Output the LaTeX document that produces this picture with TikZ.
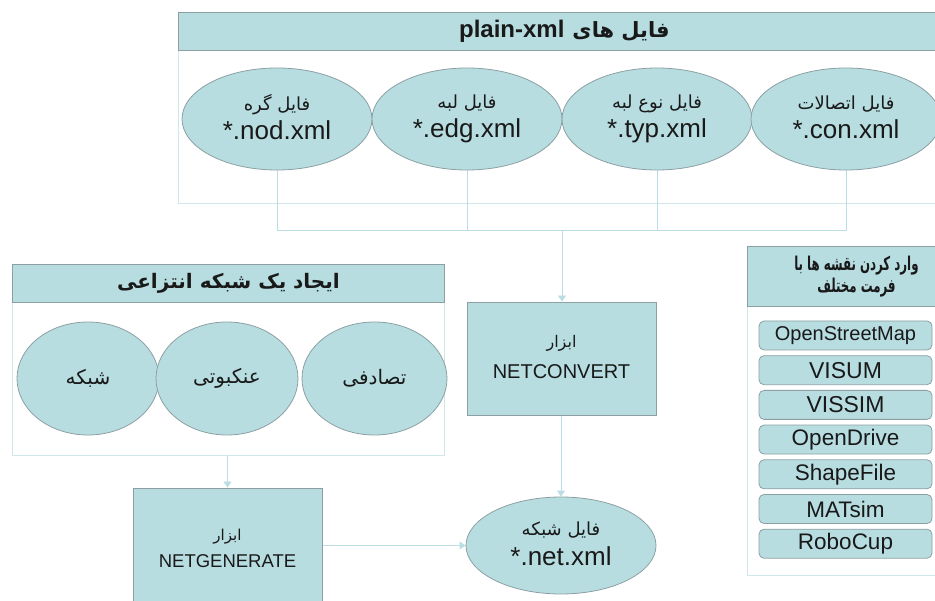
\documentclass[tikz,border=0pt]{standalone}
\usepackage{fontspec}
\setmainfont{Liberation Sans}
\newfontfamily\fa[Script=Arabic]{DejaVu Sans}
\newfontfamily\fanarrow[Script=Arabic, FakeStretch=0.62]{DejaVu Sans}
\TeXXeTstate=1
\usetikzlibrary{shapes.geometric,arrows.meta}
\definecolor{tealfill}{RGB}{183,221,225}
\definecolor{edgegray}{RGB}{140,160,163}
\definecolor{panelline}{RGB}{208,231,234}
\definecolor{linkcol}{RGB}{188,221,227}
\definecolor{ink}{RGB}{25,25,25}
\pgfdeclarelayer{panels}
\pgfdeclarelayer{links}
\pgfsetlayers{panels,links,main}
% two-line label: Persian line over a Latin line, raised by #4
\newcommand{\pairlabel}[4]{\raisebox{#4}{\begin{tabular}{@{}c@{}}#1\\[#3]#2\end{tabular}}}
\tikzset{
  panel/.style={draw=panelline, line width=0.9pt, fill=white, rectangle, inner sep=0pt},
  head/.style={draw=edgegray, fill=tealfill, line width=0.9pt, rectangle, inner sep=0pt, align=center, text=ink},
  oval/.style={ellipse, draw=edgegray, fill=tealfill, line width=0.8pt, inner sep=0pt, text=ink},
  toolbox/.style={rectangle, draw=edgegray, fill=tealfill, line width=0.9pt, inner sep=0pt, text=ink},
  fmt/.style={rectangle, rounded corners=5pt, draw=edgegray, fill=tealfill, line width=0.8pt,
    minimum width=173pt, minimum height=29pt, inner sep=0pt, text=ink},
  link/.style={draw=linkcol, line width=0.9pt},
  flow/.style={link, -{Triangle[length=6pt,width=8pt]}},
  fa/.style={font={\fa\fontsize{#1}{#1}\selectfont}},
  lat/.style={font={\fontsize{#1}{#1}\selectfont}}
}
\begin{document}
\begin{tikzpicture}[x=1pt,y=-1pt]
\useasboundingbox (0,0) rectangle (935,601);

% ---- panels with their title bars ----
\begin{pgfonlayer}{panels}
\node[panel, minimum width=772pt, minimum height=153pt, anchor=north west] (topbody) at (178,50) {};
\node[panel, minimum width=432pt, minimum height=153pt, anchor=north west] (leftbody) at (12,302) {};
\node[panel, minimum width=218pt, minimum height=269pt, anchor=north west] (rightbody) at (747,306) {};
\end{pgfonlayer}

\node[head, minimum width=772pt, minimum height=38pt, anchor=north west] (tophead) at (178,12)
  {{\bfseries\fontsize{24}{24}\selectfont plain-xml}\hspace{8pt}{\fa\bfseries\fontsize{21}{21}\selectfont\beginR فایل های\endR}};
\node[head, minimum width=432pt, minimum height=38pt, anchor=north west,
      font={\fa\bfseries\fontsize{20}{20}\selectfont}] (lefthead) at (12,264)
  {\beginR ایجاد یک شبکه انتزاعی\endR};
\node[head, minimum width=218pt, minimum height=60pt, anchor=north west,
      font={\fanarrow\bfseries\fontsize{19}{22}\selectfont}] (righthead) at (747,246)
  {\beginR وارد کردن نقشه ها با\endR\\\beginR فرمت مختلف\endR};

% ---- plain-xml files ----
\node[oval, minimum width=190pt, minimum height=102pt] (nod) at (277,119)
  {\pairlabel{\fa\fontsize{18}{18}\selectfont\beginR فایل گره\endR}{\fontsize{26}{26}\selectfont *.nod.xml}{7pt}{4.5pt}};
\node[oval, minimum width=190pt, minimum height=102pt] (edg) at (467,119)
  {\pairlabel{\fa\fontsize{18}{18}\selectfont\beginR فایل لبه\endR}{\fontsize{26}{26}\selectfont *.edg.xml}{7pt}{4.5pt}};
\node[oval, minimum width=190pt, minimum height=102pt] (typ) at (657,119)
  {\pairlabel{\fa\fontsize{18}{18}\selectfont\beginR فایل نوع لبه\endR}{\fontsize{26}{26}\selectfont *.typ.xml}{7pt}{4.5pt}};
\node[oval, minimum width=190pt, minimum height=102pt] (con) at (846,119)
  {\pairlabel{\fa\fontsize{18}{18}\selectfont\beginR فایل اتصالات\endR}{\fontsize{26}{26}\selectfont *.con.xml}{7pt}{4.5pt}};

% ---- tools and the resulting network ----
\node[toolbox, minimum width=189pt, minimum height=113pt] (netconvert) at (561.5,358.5)
  {\pairlabel{\fa\fontsize{16}{16}\selectfont\beginR ابزار\endR}{\fontsize{20}{20}\selectfont NETCONVERT}{13pt}{-1pt}};
\node[toolbox, minimum width=189pt, minimum height=124pt] (netgenerate) at (227.5,550)
  {\pairlabel{\fa\fontsize{15}{15}\selectfont\beginR ابزار\endR}{\fontsize{18.5}{18.5}\selectfont NETGENERATE}{10pt}{0pt}};
\node[oval, minimum width=190pt, minimum height=97pt] (net) at (561,545.5)
  {\pairlabel{\fa\fontsize{18}{18}\selectfont\beginR فایل شبکه\endR}{\fontsize{26}{26}\selectfont *.net.xml}{7pt}{2.5pt}};

% ---- abstract network types ----
\node[oval, fa=20, minimum width=142pt, minimum height=113pt] (grid) at (88,378.5) {\beginR شبکه\endR};
\node[oval, fa=20, minimum width=142pt, minimum height=113pt] (spider) at (227,378.5) {\beginR عنکبوتی\endR};
\node[oval, fa=20, minimum width=145pt, minimum height=113pt] (random) at (374.5,378.5) {\beginR تصادفی\endR};

% ---- import formats ----
\foreach \name/\lbl/\sz [count=\i from 0] in {osm/OpenStreetMap/20, visum/VISUM/23, vissim/VISSIM/23,
    opendrive/OpenDrive/22.5, shape/ShapeFile/22.5, matsim/MATsim/22.5, robocup/RoboCup/22.5} {
  \node[fmt, lat=\sz] (\name) at (845.5,{335.5+34.7*\i}) {\lbl};
}

% ---- connectors ----
\begin{pgfonlayer}{links}
\coordinate (join) at (562,230);
\draw[link] (nod.south) -- (nod.south |- join) -- (con.south |- join) -- (con.south);
\draw[link] (edg.south) -- (edg.south |- join);
\draw[link] (typ.south) -- (typ.south |- join);
\draw[flow] (join) -- (join |- netconvert.north);
\draw[flow] (leftbody.south -| netgenerate.north) -- (netgenerate.north);
\draw[flow] (netconvert.south -| net.north) -- (net.north);
\draw[flow] (netgenerate.east |- net.west) -- (net.west);
\end{pgfonlayer}
\end{tikzpicture}
\end{document}
